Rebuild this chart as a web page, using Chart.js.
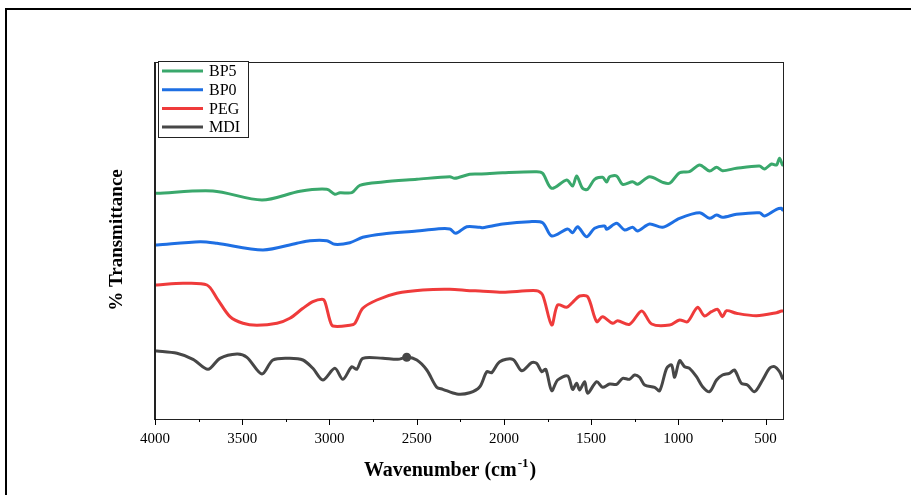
<!DOCTYPE html>
<html>
<head>
<meta charset="utf-8">
<script src="https://cdn.jsdelivr.net/npm/chart.js@4/dist/chart.umd.min.js"></script>
<style>
  html, body { margin: 0; padding: 0; background: #fff; overflow: hidden; }
  #frame { position: absolute; left: 5px; top: 8px; width: 1000px; height: 600px;
           border-left: 2px solid #000; border-top: 2px solid #000; }
  #wrap { position: absolute; left: 0; top: 0; width: 911px; height: 495px; }
</style>
</head>
<body>
<div id="frame"></div>
<div id="wrap"><canvas id="c" width="911" height="495"></canvas></div>
<script>
// ---- data (wavenumber in cm-1, transmittance in arbitrary offset units) ----
const seriesNames = ['BP5', 'BP0', 'PEG', 'MDI'];
const xTickLabels = [4000, 3500, 3000, 2500, 2000, 1500, 1000, 500];
const xMinorTicks = [3750, 3250, 2750, 2250, 1750, 1250, 750];

const bp5Wave = [4000, 3989, 3668, 3387, 3169, 3015, 2969, 2940, 2872, 2826, 2694, 2499, 2310, 2282, 2196, 2138, 2007, 1812, 1778, 1726, 1640, 1606, 1583, 1549, 1520, 1480, 1434, 1411, 1394, 1354, 1319, 1262, 1233, 1165, 1090, 1050, 993, 936, 878, 821, 781, 747, 667, 535, 506, 466, 437, 420, 403];
const bp5Val  = [225.7, 225.7, 228, 219, 227.7, 229.7, 224.7, 226.3, 226.3, 233.7, 237, 239.7, 242.3, 240.7, 244.7, 245, 246.3, 247.3, 245.7, 230.7, 239, 233, 243, 230.7, 229.7, 239.7, 241.7, 237, 242.3, 243, 234.7, 237.3, 234.7, 242.3, 236.7, 235.7, 246.3, 247.3, 254, 248, 251.7, 248.3, 250.7, 253, 250, 255, 254, 260.7, 254];

const bp0Wave = [4000, 3989, 3742, 3645, 3381, 3187, 3112, 3015, 2969, 2883, 2809, 2694, 2499, 2385, 2310, 2276, 2213, 2138, 2121, 2007, 1852, 1778, 1726, 1634, 1606, 1577, 1526, 1480, 1422, 1411, 1354, 1308, 1262, 1233, 1165, 1090, 993, 878, 821, 781, 747, 667, 535, 506, 437, 409, 403];
const bp0Val  = [174, 174, 177.3, 175.7, 169, 175.7, 178.3, 178.3, 174.7, 176.3, 181.7, 185, 188, 190, 190, 185.7, 192.3, 191.7, 191.3, 195, 197.3, 196.3, 183, 190, 186.3, 192.3, 182.3, 190.7, 193, 189.7, 195.7, 189, 191.7, 188, 195, 191.7, 200.7, 206.3, 200.7, 204, 201.7, 204.7, 206.3, 203, 209.7, 210.7, 209];

const pegWave = [4000, 3989, 3840, 3702, 3645, 3570, 3496, 3416, 3301, 3227, 3152, 3095, 3043, 3026, 2998, 2980, 2883, 2854, 2809, 2728, 2614, 2465, 2310, 2196, 2138, 2007, 1812, 1778, 1726, 1692, 1640, 1606, 1566, 1520, 1468, 1434, 1377, 1348, 1280, 1210, 1153, 1050, 993, 947, 890, 850, 810, 775, 747, 724, 667, 552, 437, 409, 403];
const pegVal  = [134, 134, 135.7, 134, 120.7, 102.3, 95.7, 93.7, 95.7, 100.7, 110.7, 117.3, 119.7, 117.3, 99, 93, 93.7, 95.7, 110.7, 119, 125.7, 129, 129.7, 128.3, 128, 126.7, 128.3, 124, 94, 114, 111.7, 116.7, 123, 122.3, 97.3, 102.3, 95.7, 98.3, 94.7, 108, 95, 94, 99, 97.3, 111.7, 103, 107.3, 109.7, 102.3, 108.3, 105.7, 103.3, 106.3, 108, 108];

const mdiWave = [4000, 3989, 3874, 3782, 3696, 3628, 3530, 3473, 3387, 3324, 3227, 3152, 3095, 3038, 2969, 2923, 2872, 2843, 2809, 2694, 2608, 2557, 2499, 2442, 2385, 2350, 2270, 2196, 2138, 2098, 2070, 2024, 1949, 1898, 1841, 1812, 1783, 1760, 1726, 1692, 1634, 1606, 1583, 1566, 1537, 1520, 1468, 1434, 1394, 1354, 1319, 1280, 1251, 1222, 1193, 1136, 1107, 1067, 1039, 1021, 993, 964, 936, 896, 861, 821, 781, 747, 707, 678, 639, 604, 563, 517, 477, 449, 420, 403];
const mdiVal  = [68, 68, 65.7, 59.7, 49.7, 60.7, 65, 61.7, 45, 59, 60.7, 59, 50.7, 39, 50.7, 39.7, 52.3, 49.7, 60.7, 60.7, 59.7, 61.7, 59, 49, 31.7, 29.7, 25, 26.3, 32.3, 47.3, 46.3, 57.3, 59.7, 48.3, 56.3, 55.7, 47.3, 49.7, 28.3, 39, 43, 29.7, 35.7, 29, 37.3, 25.7, 37.3, 31.7, 35, 34.7, 40.7, 39.7, 44, 41.7, 34, 31.7, 28.3, 50.7, 54, 41.7, 58.3, 52.3, 50.7, 42.3, 32.3, 27.3, 39, 44, 45.7, 49, 35.7, 34, 27.3, 39, 50.7, 52.3, 47.3, 40.7];
const mdiMarkerWave = 2557;

const seriesColors = ['#3aa86c', '#1e6fe3', '#ef3b3b', '#474747'];

function pairs(xs, ys) { return xs.map((x, i) => ({ x: x, y: ys[i] })); }

const waves = [bp5Wave, bp0Wave, pegWave, mdiWave];
const vals = [bp5Val, bp0Val, pegVal, mdiVal];

const datasets = seriesNames.map((name, i) => ({
  label: name,
  data: pairs(waves[i], vals[i]),
  borderColor: seriesColors[i],
  backgroundColor: seriesColors[i],
  borderWidth: 3,
  tension: 0.3,
  borderJoinStyle: 'round',
  borderCapStyle: 'round',
  pointRadius: name === 'MDI' ? (ctx => (ctx.raw && ctx.raw.x === mdiMarkerWave ? 4.5 : 0)) : 0,
  pointBorderWidth: 0,
  fill: false
}));

const serif = '"Liberation Serif", "Times New Roman", serif';

const decor = {
  id: 'decor',
  afterDraw(chart) {
    const ctx = chart.ctx;
    const a = chart.chartArea;
    const xs = chart.scales.x;
    ctx.save();
    // frame
    ctx.strokeStyle = '#222';
    ctx.lineWidth = 1;
    ctx.strokeRect(a.left + 0.5, a.top + 0.5, a.right - a.left, a.bottom - a.top);
    ctx.lineWidth = 2;
    ctx.beginPath();
    ctx.moveTo(a.left, a.top); ctx.lineTo(a.left, a.bottom + 1);
    ctx.stroke();
    // ticks
    ctx.lineWidth = 1;
    ctx.strokeStyle = '#000';
    xTickLabels.forEach(v => {
      const p = Math.round(xs.getPixelForValue(v)) + 0.5;
      ctx.beginPath(); ctx.moveTo(p, a.bottom); ctx.lineTo(p, a.bottom + 6); ctx.stroke();
    });
    xMinorTicks.forEach(v => {
      const p = Math.round(xs.getPixelForValue(v)) + 0.5;
      ctx.beginPath(); ctx.moveTo(p, a.bottom); ctx.lineTo(p, a.bottom + 3); ctx.stroke();
    });
    // legend box
    const lx = a.left + 3, ly = a.top - 1, lw = 90, lh = 76;
    ctx.fillStyle = '#fff';
    ctx.fillRect(lx, ly, lw, lh);
    ctx.strokeStyle = '#222';
    ctx.strokeRect(lx + 0.5, ly + 0.5, lw, lh);
    ctx.font = '16px ' + serif;
    ctx.textBaseline = 'middle';
    chart.data.datasets.forEach((ds, i) => {
      const y = ly + 10 + i * 18.7;
      ctx.strokeStyle = ds.borderColor;
      ctx.lineWidth = 3;
      ctx.beginPath(); ctx.moveTo(lx + 4, y); ctx.lineTo(lx + 45, y); ctx.stroke();
      ctx.fillStyle = '#000';
      ctx.fillText(ds.label, lx + 51, y + 1);
    });
    // x title with superscript
    ctx.fillStyle = '#000';
    ctx.textBaseline = 'alphabetic';
    const main = 'Wavenumber (cm';
    const sup = '-1';
    const close = ')';
    ctx.font = 'bold 20px ' + serif;
    const w1 = ctx.measureText(main).width;
    const w3 = ctx.measureText(close).width;
    ctx.font = 'bold 13px ' + serif;
    const w2 = ctx.measureText(sup).width;
    const cx = (a.left + a.right) / 2 - 20;
    let x0 = cx - (w1 + w2 + w3) / 2;
    const by = 476;
    ctx.font = 'bold 20px ' + serif;
    ctx.fillText(main, x0, by);
    ctx.font = 'bold 13px ' + serif;
    ctx.fillText(sup, x0 + w1 + 1, by - 9);
    ctx.font = 'bold 20px ' + serif;
    ctx.fillText(close, x0 + w1 + w2 + 2, by);
    // y title
    ctx.save();
    ctx.translate(122, 240);
    ctx.rotate(-Math.PI / 2);
    ctx.textAlign = 'center';
    ctx.textBaseline = 'alphabetic';
    ctx.font = 'bold 19px ' + serif;
    ctx.fillText('% Transmittance', 0, 0);
    ctx.restore();
    ctx.restore();
  }
};

new Chart(document.getElementById('c'), {
  type: 'line',
  data: { datasets: datasets },
  options: {
    responsive: false,
    animation: false,
    layout: { padding: { left: 0, top: 62, right: 128, bottom: 0 } },
    plugins: { legend: { display: false }, tooltip: { enabled: false } },
    scales: {
      x: {
        type: 'linear',
        reverse: true,
        min: 400,
        max: 4000,
        afterBuildTicks: s => { s.ticks = xTickLabels.map(v => ({ value: v })); },
        afterFit: s => { s.height = 76; },
        grid: { display: false },
        border: { display: false },
        ticks: {
          color: '#000',
          font: { family: serif, size: 15 },
          padding: 3,
          maxRotation: 0,
          autoSkip: false,
          callback: v => String(v)
        }
      },
      y: {
        min: 0,
        max: 357,
        afterFit: s => { s.width = 155; },
        grid: { display: false },
        border: { display: false },
        ticks: { display: false }
      }
    }
  },
  plugins: [decor]
});
</script>
</body>
</html>
